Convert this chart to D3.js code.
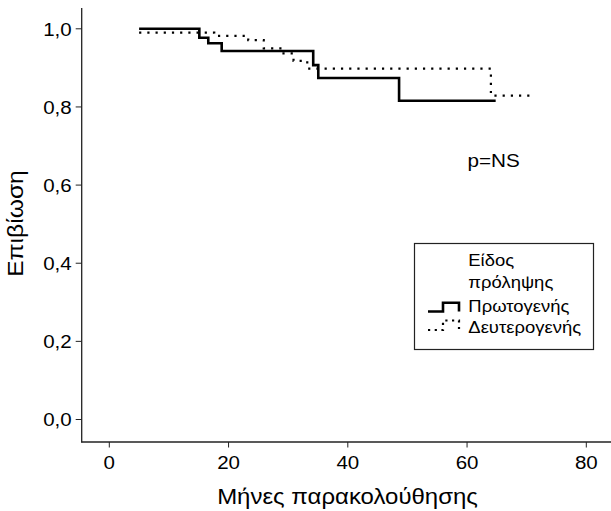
<!DOCTYPE html>
<html>
<head>
<meta charset="utf-8">
<script src="https://cdn.jsdelivr.net/npm/d3@7"></script>
<style>
  html, body { margin: 0; padding: 0; background: #fff; }
  svg { display: block; font-family: "Liberation Sans", Arial, sans-serif; }
</style>
</head>
<body>
<svg id="chart" width="611" height="511"></svg>
<script>
// ---- Data ----
const primaryTimes = [5, 15.1, 16.6, 18.85, 34.2, 35.05, 48.6, 64.8];
const primarySurv  = [1.0, 0.977, 0.963, 0.943, 0.907, 0.874, 0.816, 0.816];

const secondaryTimes = [5, 17.6, 23.3, 25.9, 28.9, 30.9, 33.2, 64.0, 71.4];
const secondarySurv  = [0.990, 0.982, 0.971, 0.950, 0.937, 0.918, 0.898, 0.829, 0.829];

const xTicks = [0, 20, 40, 60, 80];
const yTicks = [0, 0.2, 0.4, 0.6, 0.8, 1.0];
const yTickLabels = ["0,0", "0,2", "0,4", "0,6", "0,8", "1,0"];

const legendTitle = ["Είδος", "πρόληψης"];
const seriesNames = ["Πρωτογενής", "Δευτερογενής"];

const xTitle = "Μήνες παρακολούθησης";
const yTitle = "Επιβίωση";
const pText = "p=NS";

// ---- Layout ----
const svg = d3.select("#chart");
const x = d3.scaleLinear().domain([0, 80]).range([109.3, 586.3]);
const y = d3.scaleLinear().domain([0, 1]).range([419.5, 28.8]);
const axisLeftX = 81.7, axisBottomY = 442, axisTopY = 8, axisRightX = 611;

const axisColor = "#222";
const tickFont = 19;

// X axis
const gx = svg.append("g").attr("transform", `translate(0,${axisBottomY})`);
gx.append("line").attr("x1", axisLeftX - 0.5).attr("x2", axisRightX)
  .attr("stroke", axisColor).attr("stroke-width", 1.3);
gx.selectAll("line.t").data(xTicks).join("line").attr("class", "t")
  .attr("x1", d => x(d)).attr("x2", d => x(d)).attr("y1", 0).attr("y2", 5.5)
  .attr("stroke", axisColor).attr("stroke-width", 1);
gx.selectAll("text").data(xTicks).join("text")
  .attr("transform", d => `translate(${x(d)},27) scale(1.08,1)`)
  .attr("text-anchor", "middle").attr("font-size", tickFont).attr("fill", "#000")
  .text(d => d);

// Y axis
const gy = svg.append("g").attr("transform", `translate(${axisLeftX},0)`);
gy.append("line").attr("y1", axisTopY).attr("y2", axisBottomY + 0.5)
  .attr("stroke", axisColor).attr("stroke-width", 1.3);
gy.selectAll("line.t").data(yTicks).join("line").attr("class", "t")
  .attr("y1", d => y(d)).attr("y2", d => y(d)).attr("x1", 0).attr("x2", -6)
  .attr("stroke", axisColor).attr("stroke-width", 1);
gy.selectAll("text").data(yTicks).join("text")
  .attr("transform", d => `translate(-10,${y(d) + 6.8}) scale(1.08,1)`)
  .attr("text-anchor", "end").attr("font-size", tickFont).attr("fill", "#000")
  .text((d, i) => yTickLabels[i]);

// Axis titles
svg.append("text")
  .attr("transform", `translate(347.5,503.5) scale(1.09,1)`)
  .attr("text-anchor", "middle").attr("font-size", 22).attr("fill", "#000")
  .text(xTitle);
svg.append("text")
  .attr("transform", `translate(23,223.5) rotate(-90) scale(1.12,1)`)
  .attr("text-anchor", "middle").attr("font-size", 22).attr("fill", "#000")
  .text(yTitle);

// Curves
const line = d3.line().x(d => x(d[0])).y(d => y(d[1])).curve(d3.curveStepAfter);
const primaryPts = primaryTimes.map((t, i) => [t, primarySurv[i]]);
const secondaryPts = secondaryTimes.map((t, i) => [t, secondarySurv[i]]);

svg.append("path").attr("d", line(secondaryPts))
  .attr("fill", "none").attr("stroke", "#000").attr("stroke-width", 2.2)
  .attr("stroke-dasharray", "2.2,6");
svg.append("path").attr("d", line(primaryPts))
  .attr("fill", "none").attr("stroke", "#000").attr("stroke-width", 2.6)
  .attr("stroke-linejoin", "miter");

// p text
svg.append("text")
  .attr("transform", `translate(467.5,167.3) scale(1.15,1)`)
  .attr("font-size", 18).attr("fill", "#000").text(pText);

// Legend
const lg = svg.append("g");
lg.append("rect").attr("x", 414.5).attr("y", 243.5).attr("width", 179).attr("height", 106)
  .attr("fill", "#fff").attr("stroke", "#222").attr("stroke-width", 1.2);
lg.selectAll("text.title").data(legendTitle).join("text").attr("class", "title")
  .attr("transform", (d, i) => `translate(468.3,${266 + i * 22}) scale(1.12,1)`)
  .attr("font-size", 16.5).attr("fill", "#000").text(d => d);
lg.selectAll("text.name").data(seriesNames).join("text").attr("class", "name")
  .attr("transform", (d, i) => `translate(468.3,${311.5 + i * 21.5}) scale(1.12,1)`)
  .attr("font-size", 16.5).attr("fill", "#000").text(d => d);

// Legend symbols
const symLine = d3.line();
const symbolPath = (yLow, yHigh) => symLine([
  [428, yLow], [443, yLow], [443, yHigh], [459, yHigh], [459, yLow]
]);
lg.append("path").attr("d", symbolPath(311.5, 302.7))
  .attr("fill", "none").attr("stroke", "#000").attr("stroke-width", 2.6);
lg.append("path").attr("d", symbolPath(330, 320.5))
  .attr("fill", "none").attr("stroke", "#000").attr("stroke-width", 2.2)
  .attr("stroke-dasharray", "2.2,4.5");
</script>
</body>
</html>
